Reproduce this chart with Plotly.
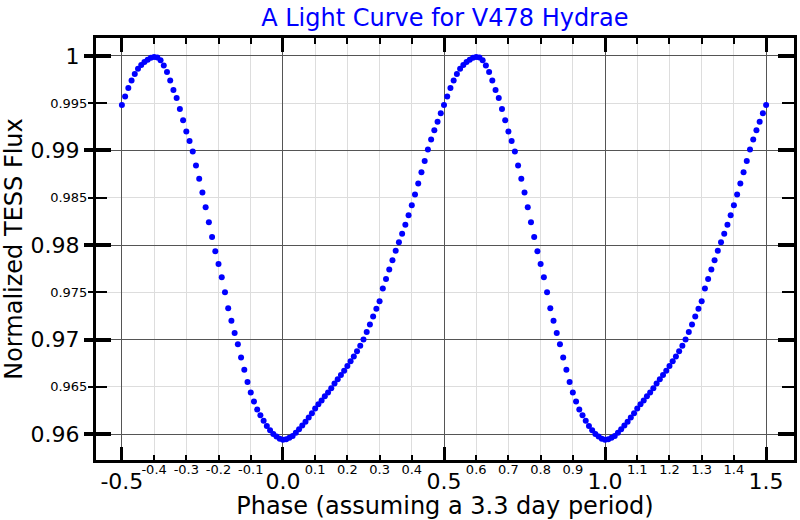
import numpy as np
import plotly.graph_objects as go

# One period of the phased light curve (phase 0..0.99)
phase = [0.00, 0.01, 0.02, 0.03, 0.04, 0.05, 0.06, 0.07, 0.08, 0.09,
         0.10, 0.11, 0.12, 0.13, 0.14, 0.15, 0.16, 0.17, 0.18, 0.19,
         0.20, 0.21, 0.22, 0.23, 0.24, 0.25, 0.26, 0.27, 0.28, 0.29,
         0.30, 0.31, 0.32, 0.33, 0.34, 0.35, 0.36, 0.37, 0.38, 0.39,
         0.40, 0.41, 0.42, 0.43, 0.44, 0.45, 0.46, 0.47, 0.48, 0.49,
         0.50, 0.51, 0.52, 0.53, 0.54, 0.55, 0.56, 0.57, 0.58, 0.59,
         0.60, 0.61, 0.62, 0.63, 0.64, 0.65, 0.66, 0.67, 0.68, 0.69,
         0.70, 0.71, 0.72, 0.73, 0.74, 0.75, 0.76, 0.77, 0.78, 0.79,
         0.80, 0.81, 0.82, 0.83, 0.84, 0.85, 0.86, 0.87, 0.88, 0.89,
         0.90, 0.91, 0.92, 0.93, 0.94, 0.95, 0.96, 0.97, 0.98, 0.99]
flux = [0.95940, 0.95945, 0.95960, 0.95980, 0.96015, 0.96050, 0.96090, 0.96130, 0.96175, 0.96220,
        0.96270, 0.96315, 0.96355, 0.96400, 0.96440, 0.96485, 0.96535, 0.96580, 0.96625, 0.96670,
        0.96720, 0.96770, 0.96820, 0.96875, 0.96935, 0.97000, 0.97080, 0.97160, 0.97245, 0.97325,
        0.97405, 0.97540, 0.97640, 0.97740, 0.97840, 0.97940, 0.98030, 0.98120, 0.98215, 0.98315,
        0.98420, 0.98535, 0.98650, 0.98770, 0.98890, 0.99010, 0.99115, 0.99215, 0.99305, 0.99395,
        0.99480, 0.99570, 0.99660, 0.99740, 0.99810, 0.99865, 0.99905, 0.99935, 0.99960, 0.99980,
        0.99990, 0.99985, 0.99955, 0.99900, 0.99830, 0.99740, 0.99640, 0.99555, 0.99440, 0.99320,
        0.99200, 0.99100, 0.98990, 0.98840, 0.98700, 0.98555, 0.98400, 0.98240, 0.98085, 0.97935,
        0.97800, 0.97660, 0.97500, 0.97330, 0.97200, 0.97070, 0.96950, 0.96810, 0.96680, 0.96550,
        0.96440, 0.96345, 0.96260, 0.96200, 0.96140, 0.96085, 0.96040, 0.96000, 0.95975, 0.95950]

major_x = [-0.5, 0.0, 0.5, 1.0, 1.5]
major_x_text = ["-0.5", "0.0", "0.5", "1.0", "1.5"]
minor_x = [-0.4, -0.3, -0.2, -0.1, 0.1, 0.2, 0.3, 0.4, 0.6, 0.7, 0.8, 0.9,
           1.1, 1.2, 1.3, 1.4]
minor_x_text = ["-0.4", "-0.3", "-0.2", "-0.1", "0.1", "0.2", "0.3", "0.4",
                "0.6", "0.7", "0.8", "0.9", "1.1", "1.2", "1.3", "1.4"]
major_y = [0.96, 0.97, 0.98, 0.99, 1.0]
major_y_text = ["0.96", "0.97", "0.98", "0.99", "1"]
minor_y = [0.965, 0.975, 0.985, 0.995]
minor_y_text = ["0.965", "0.975", "0.985", "0.995"]

title_text = "A Light Curve for V478 Hydrae"
x_title = "Phase (assuming a 3.3 day period)"
y_title = "Normalized TESS Flux"

p = np.array(phase)
f = np.array(flux)
x = np.concatenate([p[p >= 0.5] - 1, p, p[p <= 0.5] + 1])
y = np.concatenate([f[p >= 0.5], f, f[p <= 0.5]])

FONT = "DejaVu Sans"
XR = [-0.5804, 1.5866]
YR = [0.957256, 1.0019]

fig = go.Figure()
fig.add_trace(go.Scatter(x=x, y=y, mode="markers",
                         marker=dict(color="#0000ff", size=6, line=dict(width=0)),
                         showlegend=False, hoverinfo="skip"))
# empty traces to activate overlay axes
for xa, ya in [("x2", "y"), ("x3", "y"), ("x", "y2"), ("x", "y3"), ("x", "y4")]:
    fig.add_trace(go.Scatter(x=[], y=[], xaxis=xa, yaxis=ya, showlegend=False,
                             hoverinfo="skip"))

fig.update_layout(
    width=800, height=520,
    margin=dict(l=96, r=3, t=38, b=59),
    paper_bgcolor="white", plot_bgcolor="white",
    font=dict(family=FONT, color="black"),
    title=dict(text=title_text, x=0.556, xref="container", xanchor="center",
               y=0.9654, yref="container", yanchor="middle",
               font=dict(size=24, color="#0000ff", family=FONT)),
    xaxis=dict(range=XR, showline=True, linewidth=3, linecolor="black", mirror=True,
               tickmode="array", tickvals=major_x, ticktext=major_x_text,
               ticks="inside", ticklen=13, tickwidth=3, tickcolor="black",
               tickfont=dict(size=22, family=FONT),
               showgrid=True, gridcolor="#555555", gridwidth=1, zeroline=False,
               minor=dict(tickmode="array", tickvals=minor_x, ticks="inside",
                          ticklen=5, tickwidth=2, tickcolor="black",
                          showgrid=True, gridcolor="#dddddd", gridwidth=1),
               title=dict(text=x_title, font=dict(size=24, family=FONT), standoff=6)),
    xaxis2=dict(range=XR, overlaying="x", side="bottom", anchor="y",
                tickmode="array", tickvals=minor_x, ticktext=minor_x_text,
                ticks="", tickfont=dict(size=13, family=FONT),
                showgrid=False, zeroline=False, showline=False),
    xaxis3=dict(range=XR, overlaying="x", side="top", anchor="y",
                tickmode="array", tickvals=major_x, showticklabels=False,
                ticks="inside", ticklen=14, tickwidth=3, tickcolor="black",
                showgrid=False, zeroline=False, showline=False,
                minor=dict(tickmode="array", tickvals=minor_x, ticks="inside",
                           ticklen=6, tickwidth=2, tickcolor="black", showgrid=False)),
    yaxis=dict(range=YR, showline=True, linewidth=3, linecolor="black", mirror=True,
               tickmode="array", tickvals=major_y, ticktext=major_y_text,
               ticks="outside", ticklen=9, tickwidth=4, tickcolor="black",
               tickfont=dict(size=22, family=FONT),
               showgrid=True, gridcolor="#555555", gridwidth=1, zeroline=False,
               minor=dict(tickmode="array", tickvals=minor_y, ticks="outside",
                          ticklen=5, tickwidth=2, tickcolor="black",
                          showgrid=True, gridcolor="#dddddd", gridwidth=1),
               title=dict(text=y_title, font=dict(size=24, family=FONT), standoff=9)),
    yaxis2=dict(range=YR, overlaying="y", side="left", anchor="x",
                tickmode="array", tickvals=minor_y, ticktext=minor_y_text,
                ticks="outside", ticklen=5, tickwidth=2, tickcolor="black",
                tickfont=dict(size=13, family=FONT),
                showgrid=False, zeroline=False, showline=False),
    yaxis3=dict(range=YR, overlaying="y", side="left", anchor="x",
                tickmode="array", tickvals=major_y, showticklabels=False,
                ticks="inside", ticklen=15, tickwidth=4, tickcolor="black",
                showgrid=False, zeroline=False, showline=False,
                minor=dict(tickmode="array", tickvals=minor_y, ticks="inside",
                           ticklen=11, tickwidth=2, tickcolor="black", showgrid=False)),
    yaxis4=dict(range=YR, overlaying="y", side="right", anchor="x",
                tickmode="array", tickvals=major_y, showticklabels=False,
                ticks="inside", ticklen=16, tickwidth=4, tickcolor="black",
                showgrid=False, zeroline=False, showline=False,
                minor=dict(tickmode="array", tickvals=minor_y, ticks="inside",
                           ticklen=12, tickwidth=2, tickcolor="black", showgrid=False)),
)

# remove the page's default body margin so the 800x520 figure fills the window
fig.write_html("out.html", config={"displayModeBar": False},
               post_script="document.body.style.margin='0px';")
